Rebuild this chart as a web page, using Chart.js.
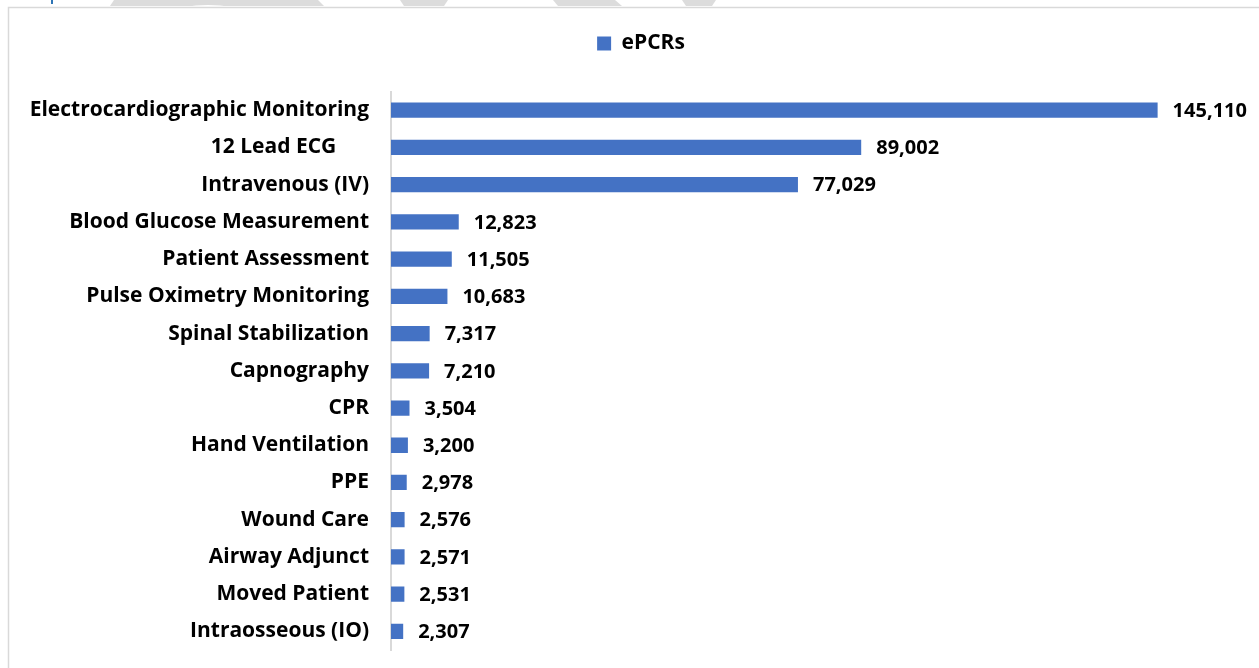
<!DOCTYPE html>
<html>
<head>
<meta charset="utf-8">
<script src="https://cdn.jsdelivr.net/npm/chart.js@4/dist/chart.umd.min.js"></script>
<style>
  html, body { margin: 0; padding: 0; background: #fff; }
  #wrap { position: relative; width: 1259px; height: 668px; }
</style>
</head>
<body>
<div id="wrap"><canvas id="c" width="1259" height="668"></canvas></div>
<script>
const categories = [
  "Electrocardiographic Monitoring",
  "12 Lead ECG      ",
  "Intravenous (IV)",
  "Blood Glucose Measurement",
  "Patient Assessment",
  "Pulse Oximetry Monitoring",
  "Spinal Stabilization",
  "Capnography",
  "CPR",
  "Hand Ventilation",
  "PPE",
  "Wound Care",
  "Airway Adjunct",
  "Moved Patient",
  "Intraosseous (IO)"
];
const epcrs = [145110, 89002, 77029, 12823, 11505, 10683, 7317, 7210, 3504, 3200, 2978, 2576, 2571, 2531, 2307];
const seriesName = "ePCRs";
const xMax = 164300;

const FONT = "'Open Sans', Lato, 'Liberation Sans', sans-serif";
const BAR_COLOR = "#4472C4";
const PAD_LEFT = 23;

const decor = {
  id: 'decor',
  beforeDraw(chart) {
    const ctx = chart.ctx;
    ctx.save();
    ctx.fillStyle = '#fff';
    ctx.fillRect(0, 0, chart.width, chart.height);
    ctx.fillStyle = '#dcdcdc';
    const polys = [
      [[114,0],[318,0],[324,6],[110,6]],
      [[400,0],[448,0],[444,6],[404,6]],
      [[553,0],[615,0],[622,6],[558,6]],
      [[682,0],[716,0],[712,6],[686,6]]
    ];
    polys.forEach(p => {
      ctx.beginPath();
      ctx.moveTo(p[0][0], p[0][1]);
      for (let i = 1; i < p.length; i++) ctx.lineTo(p[i][0], p[i][1]);
      ctx.closePath();
      ctx.fill();
    });
    ctx.fillStyle = '#fff';
    ctx.beginPath();
    ctx.ellipse(208, 12, 32, 7, 0, Math.PI, 2 * Math.PI);
    ctx.fill();
    ctx.fillStyle = '#2e75b6';
    ctx.fillRect(51, 0, 2, 4);
    ctx.strokeStyle = '#d9d9d9';
    ctx.lineWidth = 1.5;
    ctx.beginPath();
    ctx.moveTo(8.5, 670);
    ctx.lineTo(8.5, 7.5);
    ctx.lineTo(1259, 7.5);
    ctx.stroke();
    ctx.restore();
  }
};

const valueLabels = {
  id: 'valueLabels',
  afterDatasetsDraw(chart) {
    const ctx = chart.ctx;
    const meta = chart.getDatasetMeta(0);
    const data = chart.data.datasets[0].data;
    ctx.save();
    ctx.font = "bold 20px " + FONT;
    ctx.fillStyle = '#000';
    ctx.textAlign = 'left';
    ctx.textBaseline = 'middle';
    meta.data.forEach((bar, i) => {
      ctx.fillText(data[i].toLocaleString('en-US'), bar.x + 15, bar.y + 1);
    });
    ctx.restore();
  }
};

new Chart(document.getElementById('c'), {
  type: 'bar',
  data: {
    labels: categories,
    datasets: [{
      label: seriesName,
      data: epcrs,
      backgroundColor: BAR_COLOR,
      borderWidth: 0,
      barPercentage: 0.41,
      categoryPercentage: 1.0
    }]
  },
  options: {
    indexAxis: 'y',
    responsive: false,
    animation: false,
    devicePixelRatio: 1,
    layout: { padding: { top: 25, right: 0, bottom: 18, left: PAD_LEFT } },
    plugins: {
      legend: {
        display: true,
        position: 'top',
        labels: {
          color: '#000',
          boxWidth: 14,
          boxHeight: 14,
          padding: 8,
          font: { family: FONT, size: 21, weight: 'bold' }
        }
      },
      subtitle: {
        display: true,
        text: ' ',
        position: 'top',
        weight: 500,
        padding: 0,
        font: { size: 23 }
      },
      tooltip: { enabled: false }
    },
    scales: {
      x: {
        display: false,
        min: 0,
        max: xMax,
        grid: { display: false }
      },
      y: {
        afterFit(scale) {
          scale.width = 391 - PAD_LEFT;
          scale.paddingTop = 0;
          scale.paddingBottom = 0;
        },
        grid: { display: false, drawTicks: false },
        border: { display: true, color: '#d9d9d9', width: 2 },
        ticks: {
          color: '#000',
          padding: 22,
          autoSkip: false,
          font: { family: FONT, size: 21, weight: 'bold' }
        }
      }
    }
  },
  plugins: [decor, valueLabels]
});
</script>
</body>
</html>
